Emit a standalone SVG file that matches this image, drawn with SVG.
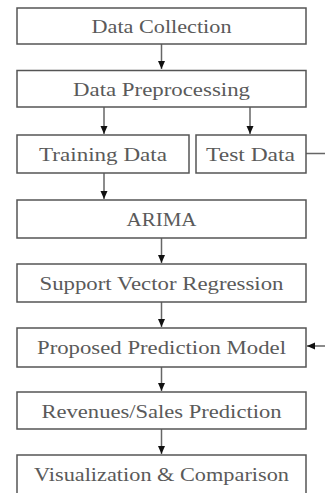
<svg xmlns="http://www.w3.org/2000/svg" width="325" height="493" viewBox="0 0 325 493">
<style>
.box{fill:#fff;stroke:#555;stroke-width:1.5}
.lbl{font-family:"Liberation Serif","DejaVu Serif",serif;font-size:18px;fill:#5a5a5a;text-anchor:middle}
.con{fill:none;stroke:#666;stroke-width:1.5}
</style>
<defs>
<marker id="ah" markerWidth="8" markerHeight="10" refX="8" refY="5" orient="auto" markerUnits="userSpaceOnUse" viewBox="0 0 8 10">
<path d="M0,1.5 L8,5 L0,8.5 Z" fill="#111"/>
</marker>
</defs>
<rect width="325" height="493" fill="#fff"/>
<g id="connectors">
<line class="con" x1="161.5" y1="44" x2="161.5" y2="69" marker-end="url(#ah)"/>
<line class="con" x1="104" y1="107" x2="104" y2="134" marker-end="url(#ah)"/>
<line class="con" x1="250" y1="107" x2="250" y2="134" marker-end="url(#ah)"/>
<line class="con" x1="104" y1="173" x2="104" y2="199" marker-end="url(#ah)"/>
<line class="con" x1="161.5" y1="238" x2="161.5" y2="263" marker-end="url(#ah)"/>
<line class="con" x1="161.5" y1="302" x2="161.5" y2="327" marker-end="url(#ah)"/>
<line class="con" x1="161.5" y1="367" x2="161.5" y2="391" marker-end="url(#ah)"/>
<line class="con" x1="161.5" y1="429" x2="161.5" y2="454" marker-end="url(#ah)"/>
<path class="con" d="M306,153.5 H335 V346 H307" marker-end="url(#ah)"/>
</g>
<g id="n1"><rect class="box" x="17" y="8" width="289" height="36"/><text class="lbl" x="161.5" y="33" textLength="140" lengthAdjust="spacingAndGlyphs">Data Collection</text></g>
<g id="n2"><rect class="box" x="17" y="70.5" width="289" height="36.5"/><text class="lbl" x="161.5" y="95.5" textLength="177" lengthAdjust="spacingAndGlyphs">Data Preprocessing</text></g>
<g id="n3"><rect class="box" x="17" y="135" width="172" height="38"/><text class="lbl" x="103" y="161" textLength="128" lengthAdjust="spacingAndGlyphs">Training Data</text></g>
<g id="n4"><rect class="box" x="196" y="135" width="110" height="38"/><text class="lbl" x="250.5" y="161" textLength="89" lengthAdjust="spacingAndGlyphs">Test Data</text></g>
<g id="n5"><rect class="box" x="17" y="200" width="289" height="38"/><text class="lbl" x="161.5" y="226" textLength="70" lengthAdjust="spacingAndGlyphs">ARIMA</text></g>
<g id="n6"><rect class="box" x="17" y="264" width="289" height="38"/><text class="lbl" x="161.5" y="290" textLength="244" lengthAdjust="spacingAndGlyphs">Support Vector Regression</text></g>
<g id="n7"><rect class="box" x="17" y="328" width="289" height="39"/><text class="lbl" x="161.5" y="354" textLength="249" lengthAdjust="spacingAndGlyphs">Proposed Prediction Model</text></g>
<g id="n8"><rect class="box" x="17" y="392" width="289" height="37"/><text class="lbl" x="161.5" y="418" textLength="240" lengthAdjust="spacingAndGlyphs">Revenues/Sales Prediction</text></g>
<g id="n9"><rect class="box" x="17" y="455" width="289" height="40"/><text class="lbl" x="161.5" y="481" textLength="255" lengthAdjust="spacingAndGlyphs">Visualization &amp; Comparison</text></g>
</svg>
